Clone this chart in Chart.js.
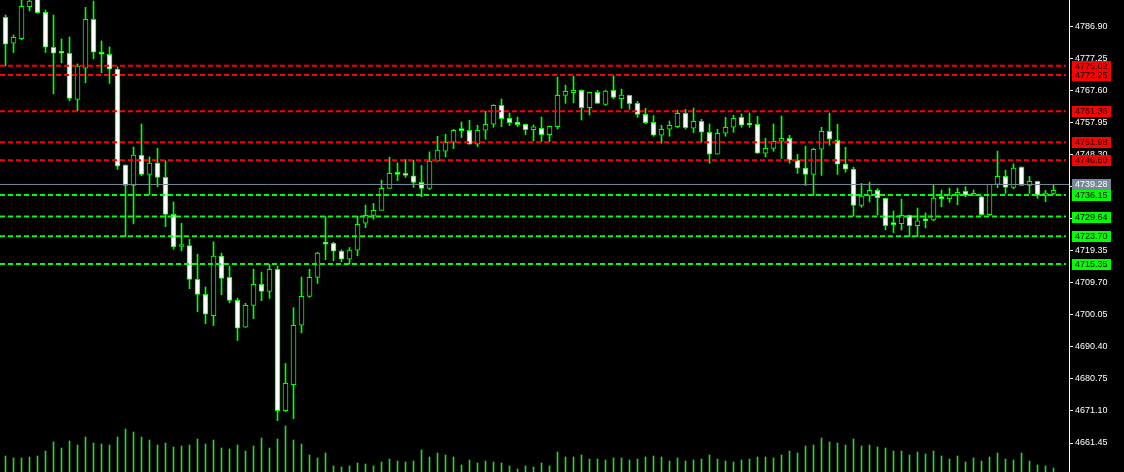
<!DOCTYPE html>
<html>
<head>
<meta charset="utf-8">
<script src="https://cdn.jsdelivr.net/npm/chart.js@4.4.1/dist/chart.umd.min.js"></script>
<style>
html,body{margin:0;padding:0;background:#000;overflow:hidden;}
canvas{display:block;}
</style>
</head>
<body>
<canvas id="chart" width="1124" height="472"></canvas>
<script>
// candles, oldest first
const opens = [
  4789.6,4781.8,4783.2,4792.8,4795.0,4791.1,4780.6,4778.9,4778.8,4764.9,
  4774.3,4789.0,4779.0,4778.5,4774.0,4745.1,4739.0,4748.1,4742.3,4745.7,
  4741.4,4730.3,4720.6,4720.9,4710.7,4706.2,4699.8,4717.7,4711.3,4704.4,
  4696.3,4702.9,4709.2,4707.1,4713.7,4671.2,4679.0,4696.9,4705.6,4711.3,
  4721.5,4721.6,4719.2,4716.8,4719.5,4727.6,4730.0,4731.5,4738.1,4742.9,
  4742.2,4741.9,4739.9,4738.1,4746.3,4749.3,4752.0,4755.6,4755.6,4751.4,
  4755.6,4757.4,4763.1,4759.2,4758.1,4757.4,4755.8,4756.2,4754.3,4756.7,
  4766.1,4766.9,4767.6,4762.4,4767.0,4763.4,4767.6,4765.1,4766.1,4763.7,
  4760.4,4758.0,4754.1,4755.9,4756.7,4760.7,4756.2,4758.3,4755.0,4748.4,
  4754.7,4756.5,4759.5,4757.3,4757.4,4748.7,4750.1,4752.3,4753.2,4746.6,
  4744.2,4742.3,4749.9,4755.3,4752.6,4745.4,4743.9,4733.0,4735.8,4737.5,
  4735.1,4727.4,4727.5,4730.0,4726.9,4728.5,4728.6,4735.1,4735.0,4736.1,
  4737.2,4736.0,4735.6,4730.2,4739.3,4741.7,4738.4,4744.5,4739.0,4740.2,
  4736.0,4736.6
];
const highs = [
  4790.3,4784.3,4795.7,4796.5,4796.0,4791.8,4790.3,4783.1,4783.7,4775.6,
  4792.6,4794.5,4782.5,4780.7,4774.7,4745.2,4750.6,4757.5,4747.6,4750.2,
  4746.4,4734.0,4727.6,4722.8,4718.3,4708.4,4722.0,4718.6,4714.7,4705.1,
  4703.5,4713.8,4712.9,4715.2,4714.7,4685.4,4702.2,4711.4,4713.8,4718.9,
  4729.6,4721.9,4719.6,4720.3,4729.8,4733.1,4733.6,4740.6,4747.5,4745.8,
  4746.8,4746.6,4745.0,4749.1,4753.8,4754.4,4755.9,4758.1,4758.6,4757.1,
  4761.3,4763.3,4765.0,4760.8,4759.6,4757.5,4757.2,4759.6,4756.9,4771.6,
  4769.2,4771.9,4767.8,4767.1,4767.6,4767.7,4772.0,4768.0,4766.2,4764.3,
  4762.2,4760.0,4757.1,4758.4,4761.6,4761.9,4762.3,4758.9,4757.5,4755.9,
  4759.5,4760.1,4760.5,4760.8,4759.8,4753.2,4757.5,4759.9,4754.1,4748.4,
  4750.8,4750.2,4756.5,4760.8,4757.4,4750.5,4744.5,4739.6,4740.0,4738.0,
  4735.2,4731.3,4734.9,4730.1,4732.2,4730.7,4739.2,4737.6,4738.2,4738.2,
  4738.6,4737.6,4735.8,4739.3,4749.3,4743.6,4745.5,4744.6,4741.7,4740.3,
  4737.5,4739.3
];
const lows = [
  4775.0,4779.0,4782.8,4791.5,4790.8,4779.0,4766.6,4775.9,4764.5,4761.4,
  4769.9,4777.1,4772.9,4769.7,4743.8,4723.6,4727.4,4741.9,4736.3,4738.6,
  4726.6,4719.8,4719.3,4707.9,4701.0,4697.4,4696.8,4706.1,4703.6,4692.3,
  4696.3,4698.9,4704.3,4705.0,4668.2,4670.9,4668.8,4694.6,4705.3,4709.5,
  4716.6,4716.3,4716.0,4715.3,4717.8,4726.3,4728.8,4731.5,4738.1,4740.4,
  4741.4,4738.4,4735.6,4737.8,4746.3,4747.6,4750.1,4753.4,4751.4,4750.7,
  4752.9,4756.5,4756.7,4757.0,4756.7,4754.3,4752.4,4752.2,4752.2,4756.0,
  4763.7,4763.9,4758.7,4760.2,4763.7,4763.1,4765.1,4762.2,4761.9,4759.5,
  4757.6,4753.8,4751.7,4753.8,4756.4,4756.0,4754.9,4752.0,4745.7,4748.4,
  4753.8,4755.0,4756.5,4756.5,4748.6,4747.6,4749.3,4747.1,4745.7,4742.6,
  4739.0,4736.0,4742.0,4751.1,4742.3,4743.0,4729.8,4732.4,4734.0,4730.1,
  4725.6,4724.8,4725.6,4723.6,4723.6,4726.2,4728.3,4732.6,4733.9,4733.2,
  4735.6,4736.0,4730.0,4730.0,4738.3,4736.6,4738.0,4739.0,4736.6,4735.1,
  4734.1,4736.3
];
const closes = [
  4781.5,4783.6,4792.9,4794.5,4791.0,4780.6,4778.8,4778.8,4765.2,4774.9,
  4789.0,4779.1,4778.5,4774.0,4744.8,4739.0,4748.1,4742.3,4745.7,4741.4,
  4730.3,4720.5,4720.6,4710.7,4706.2,4700.2,4717.7,4711.0,4704.4,4696.0,
  4702.9,4709.2,4707.1,4713.7,4671.2,4679.4,4696.9,4705.6,4711.3,4718.6,
  4721.3,4719.2,4716.8,4719.5,4727.3,4730.0,4731.5,4738.1,4742.6,4742.3,
  4742.0,4739.9,4738.1,4746.3,4749.6,4752.0,4755.6,4755.5,4751.4,4755.6,
  4757.4,4763.1,4759.1,4757.9,4757.3,4755.8,4756.6,4754.3,4756.8,4766.1,
  4767.3,4767.6,4762.4,4767.0,4763.7,4767.4,4765.5,4766.2,4763.6,4760.4,
  4757.9,4754.1,4755.9,4757.1,4760.7,4756.4,4758.3,4755.0,4748.4,4754.7,
  4756.5,4759.2,4757.1,4757.2,4748.7,4750.2,4752.3,4753.2,4746.6,4744.2,
  4742.3,4749.9,4755.3,4752.9,4745.4,4743.9,4733.0,4735.8,4737.5,4735.2,
  4726.9,4727.2,4730.0,4726.9,4728.3,4728.3,4735.2,4735.0,4736.1,4736.9,
  4736.0,4736.6,4730.2,4739.3,4741.7,4738.4,4744.2,4739.0,4740.2,4736.0,
  4736.7,4737.5
];
const volumes = [
  16,14,14,15,16,21,30,24,31,27,35,29,28,27,35,43,40,35,32,27,
  29,25,26,27,33,28,32,24,23,27,21,26,34,24,33,46,32,28,17,14,
  19,6,5,6,9,8,6,10,13,11,10,11,22,15,19,17,15,7,12,9,
  11,10,9,6,3,6,5,9,6,20,15,15,17,13,13,12,14,14,12,13,
  15,16,15,11,14,11,12,13,17,13,11,10,12,13,15,15,14,17,21,19,
  26,27,34,30,29,27,33,26,27,25,24,21,21,17,20,18,21,16,13,16,
  10,14,11,15,19,13,12,19,11,7,6,4
];
const priceTicks = [4661.45,4671.10,4680.75,4690.40,4700.05,4709.70,4719.35,4729.00,4738.65,4748.30,4757.95,4767.60,4777.25,4786.90];
const resistance = [4775.02, 4772.25, 4761.36, 4751.98, 4746.60];
const support = [4736.15, 4729.64, 4723.70, 4715.35];
const bid = 4739.28;

const GREEN = '#00ff00';
const X_MIN = -0.6875, X_MAX = 132.9375, LINE_END = 132.56;

const idx = closes.map((c, i) => i);
const wickData = idx.map(i => ({x: i, y: [lows[i], highs[i]]}));
const bodyData = idx.map(i => ({x: i, y: [opens[i], closes[i]]}));
const bodyFill = idx.map(i => closes[i] < opens[i] ? '#ffffff' : '#000000');
const volData = idx.map(i => ({x: i, y: volumes[i]}));

function levelLine(v, color, dash, end){
  return {type:'line', yAxisID:'y', data:[{x:X_MIN, y:v}, {x:end, y:v}], borderColor:color, borderWidth:dash ? 2 : 1,
    borderDash:dash || [], pointRadius:0, fill:false, order:0};
}

const priceTags = {
  id: 'priceTags',
  afterDraw(chart){
    const ctx = chart.ctx, ys = chart.scales.y, x0 = chart.chartArea.right + 3;
    ctx.save();
    ctx.font = '9px "Liberation Sans"';
    ctx.textBaseline = 'middle';
    const tag = (v, bg, fg) => {
      const py = Math.round(ys.getPixelForValue(v));
      ctx.fillStyle = bg; ctx.fillRect(x0, py - 5, 39, 11);
      ctx.fillStyle = fg; ctx.fillText(v.toFixed(2), x0 + 3, py + 0.5);
    };
    resistance.forEach(v => tag(v, '#ff0000', '#000000'));
    support.forEach(v => tag(v, GREEN, '#000000'));
    tag(bid, '#778899', '#ffffff');
    ctx.restore();
  }
};

new Chart(document.getElementById('chart'), {
  data: {
    datasets: [
      {type:'bar', data:volData, yAxisID:'vol', backgroundColor:'#32cd32', barThickness:1, grouped:false, order:3},
      {type:'bar', data:wickData, yAxisID:'y', backgroundColor:GREEN, barThickness:1, grouped:false, order:2},
      {type:'bar', data:bodyData, yAxisID:'y', backgroundColor:bodyFill, borderColor:GREEN, borderWidth:1, borderSkipped:false,
        barThickness:5, minBarLength:2, grouped:false, order:1},
      ...resistance.map(v => levelLine(v, '#ff0000', [5, 3], LINE_END)),
      ...support.map(v => levelLine(v, GREEN, [5, 3], LINE_END)),
      levelLine(bid, '#778899', null, X_MAX)
    ]
  },
  options: {
    responsive: false,
    animation: false,
    devicePixelRatio: 1,
    layout: {padding: 0},
    plugins: {legend: {display: false}, tooltip: {enabled: false}},
    scales: {
      x: {type:'linear', display:false, min:X_MIN, max:X_MAX, offset:false},
      y: {
        type:'linear', position:'right', min:4652.72, max:4794.82,
        border: {color:'#ffffff'},
        grid: {drawOnChartArea:false, color:'#ffffff', tickLength:4},
        ticks: {color:'#ffffff', font:{family:'Liberation Sans', size:9}, padding:2, autoSkip:false,
          callback: v => Number(v).toFixed(2)},
        afterBuildTicks: s => { s.ticks = priceTicks.map(v => ({value: v})); },
        afterFit: s => { s.width = 55; s.paddingTop = 0; s.paddingBottom = 0; }
      },
      vol: {type:'linear', display:false, min:0, max:472}
    }
  },
  plugins: [priceTags]
});
</script>
</body>
</html>
